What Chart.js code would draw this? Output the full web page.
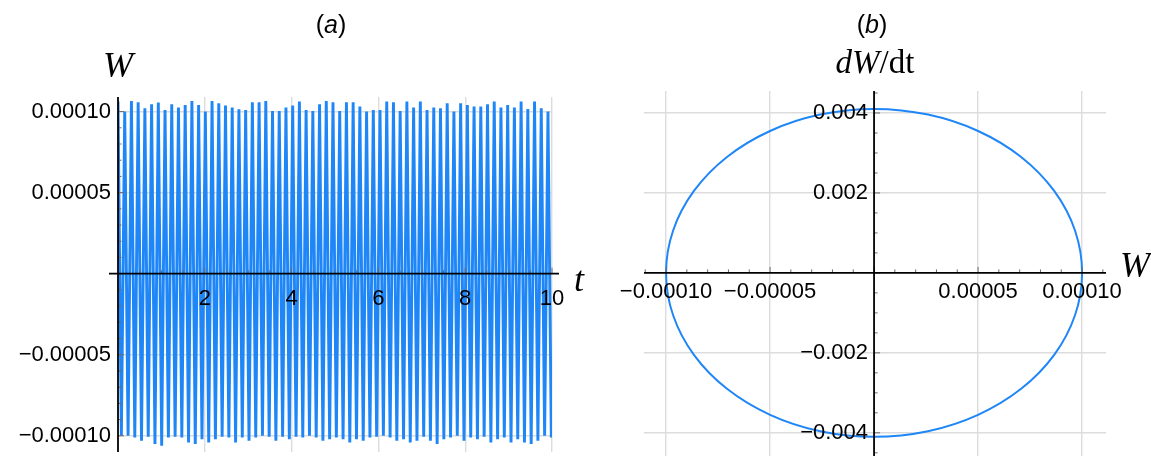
<!DOCTYPE html>
<html>
<head>
<meta charset="utf-8">
<script src="https://cdn.jsdelivr.net/npm/chart.js@4.4.1/dist/chart.umd.min.js"></script>
<style>
  html, body { margin: 0; padding: 0; background: #fff; }
  #wrap { position: relative; width: 1151px; height: 456px; }
  .panel { position: absolute; top: 0; height: 456px; }
  #panelA { left: 0; width: 600px; }
  #panelB { left: 600px; width: 551px; }
</style>
</head>
<body>
<div id="wrap">
  <div class="panel" id="panelA"><canvas id="chartA"></canvas></div>
  <div class="panel" id="panelB"><canvas id="chartB"></canvas></div>
</div>
<script>
// --- DATA ---

// (a) W(t): successive maxima and minima of the fast oscillation
const halfPeriod = 0.0774; // time from a maximum to the next minimum
const peaksW = [
  0.0001062, 0.0001000, 0.0001066, 0.0001058, 0.0001021, 0.0001045, 0.0001056, 0.0001010, 0.0001045, 0.0001025,
  0.0001041, 0.0001066, 0.0001041, 0.0001000, 0.0001066, 0.0001051, 0.0001037, 0.0001025, 0.0001014, 0.0001010,
  0.0001058, 0.0001058, 0.0001066, 0.0001004, 0.0001004, 0.0001025, 0.0001037, 0.0001062, 0.0001010, 0.0001004,
  0.0001045, 0.0001066, 0.0001058, 0.0001004, 0.0001058, 0.0001058, 0.0001031, 0.0001000, 0.0001010, 0.0001010,
  0.0001062, 0.0001058, 0.0001004, 0.0001062, 0.0001025, 0.0001062, 0.0001010, 0.0001025, 0.0001021, 0.0001051,
  0.0001000, 0.0001051, 0.0001041, 0.0001031, 0.0001031, 0.0001045, 0.0001062, 0.0001025, 0.0001041, 0.0001025,
  0.0001062, 0.0001016, 0.0001062, 0.0001021, 0.0001000
];
const troughsW = [
  -0.0001000, -0.0001000, -0.0001010, -0.0001031, -0.0001006, -0.0001051, -0.0001062, -0.0001010, -0.0001006, -0.0001010,
  -0.0001041, -0.0001051, -0.0001021, -0.0001041, -0.0001021, -0.0001006, -0.0001010, -0.0001041, -0.0001010, -0.0001031,
  -0.0001010, -0.0001000, -0.0001006, -0.0001031, -0.0001006, -0.0001021, -0.0001006, -0.0001010, -0.0001000, -0.0001010,
  -0.0001031, -0.0001021, -0.0001010, -0.0001021, -0.0001041, -0.0001021, -0.0001031, -0.0001010, -0.0001006, -0.0001000,
  -0.0001010, -0.0001031, -0.0001021, -0.0001041, -0.0001031, -0.0001006, -0.0001031, -0.0001051, -0.0001021, -0.0001010,
  -0.0001000, -0.0001031, -0.0001010, -0.0001021, -0.0001006, -0.0001041, -0.0001021, -0.0001010, -0.0001041, -0.0001021,
  -0.0001041, -0.0001051, -0.0001031, -0.0001000, -0.0001010
];
const endT = 10;
const endW = -0.00009;

// (b) phase portrait, points going round the closed orbit (a little overlap to close it smoothly)
const orbitW = [
  0.0000866, 0.0000966, 0.0001000, 0.0000966, 0.0000866, 0.0000707, 0.0000500, 0.0000259, 0,
  -0.0000259, -0.0000500, -0.0000707, -0.0000866, -0.0000966, -0.0001000, -0.0000966, -0.0000866, -0.0000707,
  -0.0000500, -0.0000259, 0, 0.0000259, 0.0000500, 0.0000707, 0.0000866, 0.0000966, 0.0001000, 0.0000966, 0.0000866
];
const orbitDW = [
  0.00205, 0.00106, 0, -0.00106, -0.00205, -0.00290, -0.00355, -0.00396, -0.00410,
  -0.00396, -0.00355, -0.00290, -0.00205, -0.00106, 0, 0.00106, 0.00205, 0.00290,
  0.00355, 0.00396, 0.00410, 0.00396, 0.00355, 0.00290, 0.00205, 0.00106, 0, -0.00106, -0.00205
];

// tick values and labels
const tTicks = [2, 4, 6, 8, 10];
const tTickLabels = ['2', '4', '6', '8', '10'];
const wTicksA = [0.0001, 0.00005, -0.00005, -0.0001];
const wTickLabelsA = ['0.00010', '0.00005', '\u22120.00005', '\u22120.00010'];
const wTicksB = [-0.0001, -0.00005, 0.00005, 0.0001];
const wTickLabelsB = ['\u22120.00010', '\u22120.00005', '0.00005', '0.00010'];
const dwTicks = [0.004, 0.002, -0.002, -0.004];
const dwTickLabels = ['0.004', '0.002', '\u22120.002', '\u22120.004'];

// --- STYLE ---
const lineBlue = '#1f86f7';
const gridGrey = '#dcdcdc';
const tickFont = '22px "Liberation Sans", Arial, sans-serif';
const mathItalic = 'italic 36px "Liberation Serif", "DejaVu Serif", serif';
const panelFont = '25px "Liberation Sans", Arial, sans-serif';
const panelItalic = 'italic 25px "Liberation Sans", Arial, sans-serif';

function line(ctx, x1, y1, x2, y2) {
  ctx.beginPath();
  ctx.moveTo(x1, y1);
  ctx.lineTo(x2, y2);
  ctx.stroke();
}

// text made of pieces in different fonts, centred on (cx, cy)
function mixedText(ctx, parts, cx, cy) {
  let total = 0;
  parts.forEach(p => { ctx.font = p[1]; total += ctx.measureText(p[0]).width; });
  let x = cx - total / 2;
  ctx.textAlign = 'left';
  ctx.textBaseline = 'middle';
  parts.forEach(p => {
    ctx.font = p[1];
    ctx.fillText(p[0], x, cy);
    x += ctx.measureText(p[0]).width;
  });
}

// small inward tick marks, Mathematica style
function tickMarks(ctx, scale, at, from, to, step, majorEvery, horizontal) {
  ctx.strokeStyle = '#6a6a6a';
  ctx.lineWidth = 1;
  for (let i = from; i <= to; i++) {
    const p = scale.getPixelForValue(i * step);
    const len = i % majorEvery === 0 ? 6 : 3.5;
    if (horizontal) line(ctx, p, at, p, at - len);
    else line(ctx, at, p, at + len, p);
  }
}

function gridScale(min, max, values) {
  return {
    type: 'linear',
    min: min,
    max: max,
    afterBuildTicks: s => { s.ticks = values.map(v => ({ value: v })); },
    grid: { color: gridGrey, lineWidth: 1.4, drawTicks: false },
    border: { display: false },
    ticks: { display: false }
  };
}

const axesA = {
  id: 'axesA',
  afterDatasetsDraw(chart) {
    const { ctx, chartArea: a, scales: { x, y } } = chart;
    const x0 = x.getPixelForValue(0);
    const y0 = y.getPixelForValue(0);
    ctx.save();
    tickMarks(ctx, x, y0, 1, 20, 0.5, 4, true);
    tickMarks(ctx, y, x0, -10, 10, 0.00001, 5, false);
    ctx.strokeStyle = '#000';
    ctx.lineWidth = 1.8;
    line(ctx, a.left - 9, y0, a.right + 7, y0);
    line(ctx, x0, a.top, x0, a.bottom);

    ctx.fillStyle = '#000';
    ctx.font = tickFont;
    ctx.textBaseline = 'middle';
    ctx.textAlign = 'center';
    tTicks.forEach((v, i) => ctx.fillText(tTickLabels[i], x.getPixelForValue(v), y0 + 25));
    ctx.textAlign = 'right';
    wTicksA.forEach((v, i) => ctx.fillText(wTickLabelsA[i], x0 - 7, y.getPixelForValue(v)));

    mixedText(ctx, [['W', mathItalic]], 118, 68);
    mixedText(ctx, [['t', mathItalic]], 579, 282);
    mixedText(ctx, [['(', panelFont], ['a', panelItalic], [')', panelFont]], 331, 26);
    ctx.restore();
  }
};

const axesB = {
  id: 'axesB',
  afterDatasetsDraw(chart) {
    const { ctx, chartArea: a, scales: { x, y } } = chart;
    const x0 = x.getPixelForValue(0);
    const y0 = y.getPixelForValue(0);
    ctx.save();
    tickMarks(ctx, x, y0, -11, 11, 0.00001, 5, true);
    tickMarks(ctx, y, x0, -9, 9, 0.0005, 4, false);
    ctx.strokeStyle = '#000';
    ctx.lineWidth = 1.8;
    line(ctx, a.left, y0, a.right, y0);
    line(ctx, x0, a.top, x0, a.bottom);

    ctx.fillStyle = '#000';
    ctx.font = tickFont;
    ctx.textBaseline = 'middle';
    ctx.textAlign = 'center';
    wTicksB.forEach((v, i) => ctx.fillText(wTickLabelsB[i], x.getPixelForValue(v), y0 + 19));
    ctx.textAlign = 'right';
    dwTicks.forEach((v, i) => ctx.fillText(dwTickLabels[i], x0 - 6, y.getPixelForValue(v)));

    mixedText(ctx, [['W', mathItalic]], 535, 268);
    mixedText(ctx, [['dW', 'italic 33px "Liberation Serif", serif'], ['/dt', '33px "Liberation Serif", serif']], 275, 64);
    mixedText(ctx, [['(', panelFont], ['b', panelItalic], [')', panelFont]], 272, 26);
    ctx.restore();
  }
};

// --- SERIES ---
const wavePoints = [];
peaksW.forEach((p, i) => {
  wavePoints.push({ x: 2 * i * halfPeriod, y: p });
  wavePoints.push({ x: (2 * i + 1) * halfPeriod, y: troughsW[i] });
});
wavePoints.push({ x: endT, y: endW });

const orbitPoints = orbitW.map((w, i) => ({ x: w, y: orbitDW[i] }));
const lastOrbit = orbitPoints.length - 1;

const common = {
  responsive: true,
  maintainAspectRatio: false,
  animation: false,
  devicePixelRatio: 1,
  events: [],
  plugins: { legend: { display: false }, tooltip: { enabled: false }, title: { display: false } }
};

new Chart(document.getElementById('chartA'), {
  type: 'scatter',
  data: {
    datasets: [{
      data: wavePoints,
      showLine: true,
      borderColor: lineBlue,
      borderWidth: 2.9,
      pointRadius: 0,
      tension: 0
    }]
  },
  options: {
    ...common,
    layout: { padding: { left: 118, right: 48, top: 97, bottom: 4 } },
    scales: {
      x: gridScale(0, 10, tTicks),
      y: gridScale(-0.00011, 0.000109, wTicksA)
    }
  },
  plugins: [axesA]
});

new Chart(document.getElementById('chartB'), {
  type: 'scatter',
  data: {
    datasets: [{
      data: orbitPoints,
      showLine: true,
      borderColor: lineBlue,
      borderWidth: 2,
      pointRadius: 0,
      tension: 0.337,
      // the overlapping end pieces only shape the curve, they are not drawn
      segment: {
        borderColor: c => (c.p0DataIndex === 0 || c.p1DataIndex === lastOrbit) ? 'rgba(0,0,0,0)' : undefined
      }
    }]
  },
  options: {
    ...common,
    layout: { padding: { left: 44, right: 45, top: 91, bottom: 0 } },
    scales: {
      x: gridScale(-0.0001106, 0.0001115, wTicksB),
      y: gridScale(-0.00458, 0.00455, dwTicks)
    }
  },
  plugins: [axesB]
});
</script>
</body>
</html>
